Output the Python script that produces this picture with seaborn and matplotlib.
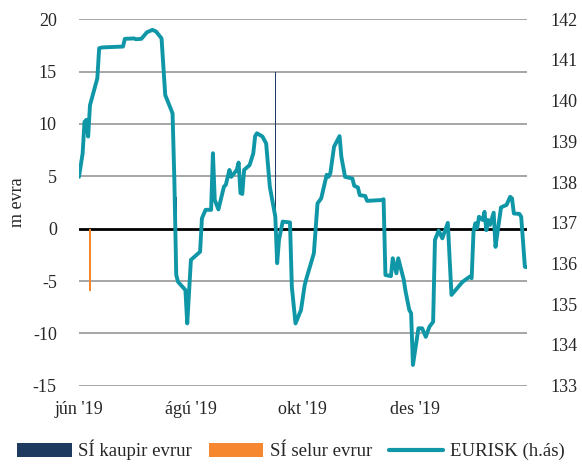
import numpy as np
import pandas as pd
import seaborn as sns
import matplotlib.pyplot as plt
from matplotlib.patches import Patch
from matplotlib.lines import Line2D

# EURISK exchange rate (right axis)
eurisk_dates = [
    "2019-06-01", "2019-06-03", "2019-06-04", "2019-06-05", "2019-06-06", "2019-06-07",
    "2019-06-11", "2019-06-12", "2019-06-14", "2019-06-25", "2019-06-26", "2019-07-01",
    "2019-07-02", "2019-07-05", "2019-07-08", "2019-07-11", "2019-07-13", "2019-07-16",
    "2019-07-18", "2019-07-22", "2019-07-23", "2019-07-24", "2019-07-25", "2019-07-29",
    "2019-07-30", "2019-08-01", "2019-08-06", "2019-08-07", "2019-08-09", "2019-08-12",
    "2019-08-13", "2019-08-14", "2019-08-16", "2019-08-19", "2019-08-20", "2019-08-22",
    "2019-08-23", "2019-08-26", "2019-08-27", "2019-08-28", "2019-08-29", "2019-08-30",
    "2019-09-02", "2019-09-04", "2019-09-05", "2019-09-06", "2019-09-09", "2019-09-11",
    "2019-09-13", "2019-09-16", "2019-09-17", "2019-09-18", "2019-09-20", "2019-09-24",
    "2019-09-25", "2019-09-27", "2019-09-30", "2019-10-02", "2019-10-03", "2019-10-07",
    "2019-10-09", "2019-10-11", "2019-10-14", "2019-10-15", "2019-10-16", "2019-10-18",
    "2019-10-21", "2019-10-22", "2019-10-24", "2019-10-28", "2019-10-29", "2019-10-31",
    "2019-11-01", "2019-11-04", "2019-11-05", "2019-11-13", "2019-11-14", "2019-11-15",
    "2019-11-18", "2019-11-19", "2019-11-21", "2019-11-22", "2019-11-25", "2019-11-26",
    "2019-11-28", "2019-11-29", "2019-11-30", "2019-12-03", "2019-12-05", "2019-12-07",
    "2019-12-09", "2019-12-11", "2019-12-12", "2019-12-14", "2019-12-16", "2019-12-19",
    "2019-12-21", "2019-12-27", "2019-12-31", "2020-01-01", "2020-01-02", "2020-01-03",
    "2020-01-04", "2020-01-05", "2020-01-07", "2020-01-08", "2020-01-09", "2020-01-10",
    "2020-01-11", "2020-01-13", "2020-01-14", "2020-01-15", "2020-01-17", "2020-01-20",
    "2020-01-22", "2020-01-23", "2020-01-24", "2020-01-27", "2020-01-28", "2020-01-30",
    "2020-01-31",
]
eurisk_values = [
    138.13, 138.71, 139.48, 139.53, 139.12, 139.89,
    140.55, 141.29, 141.31, 141.33, 141.52, 141.53,
    141.51, 141.52, 141.68, 141.74, 141.70, 141.53,
    140.14, 139.69, 138.01, 135.72, 135.55, 135.35,
    134.53, 136.09, 136.29, 137.11, 137.32, 137.32,
    138.71, 137.56, 137.33, 137.89, 137.93, 138.30,
    138.13, 138.30, 138.48, 137.73, 137.71, 138.30,
    138.42, 138.71, 139.13, 139.20, 139.12, 138.95,
    137.89, 137.15, 136.01, 136.58, 137.03, 137.01,
    135.43, 134.53, 134.86, 135.47, 135.64, 136.25,
    137.48, 137.60, 138.18, 138.13, 138.22, 138.87,
    139.13, 138.62, 138.13, 138.09, 137.91, 137.87,
    137.68, 137.66, 137.54, 137.56, 137.58, 135.72,
    135.69, 136.13, 135.76, 136.13, 135.60, 135.31,
    134.86, 134.78, 133.51, 134.41, 134.41, 134.20,
    134.45, 134.57, 136.58, 136.81, 136.62, 137.00,
    135.23, 135.55, 135.68, 135.64, 136.78, 136.99,
    136.87, 137.15, 137.07, 137.27, 136.82, 137.07,
    136.95, 137.25, 136.41, 136.74, 137.38, 137.44,
    137.64, 137.60, 137.23, 137.22, 137.15, 135.92,
    135.91,
]

# central bank interventions, m evra (left axis)
buy_dates = ["2019-07-24", "2019-09-16"]
buy_values = [3, 15]
sell_dates = ["2019-06-07"]
sell_values = [-6]

tick_dates = ["2019-06-01", "2019-08-01", "2019-10-01", "2019-12-01"]
tick_labels = ["jún '19", "ágú '19", "okt '19", "des '19"]

NAVY = "#1f3a5f"
ORANGE = "#f7872f"
TEAL = "#0f97a8"
GRID = "#a6a6a6"

sns.set_style("white")
plt.rcParams["font.family"] = ["Liberation Serif", "DejaVu Serif"]
plt.rcParams["font.size"] = 13
plt.rcParams["axes.unicode_minus"] = False

df = pd.DataFrame({"date": pd.to_datetime(eurisk_dates), "eurisk": eurisk_values})

fig = plt.figure(figsize=(5.82, 4.75), dpi=100)
ax = fig.add_axes([0.1357, 0.188, 0.7693, 0.7714])
ax2 = ax.twinx()

# left axis: bars + grid
ax.set_ylim(-15, 20)
ax.set_yticks(np.arange(-15, 21, 5))
for v in np.arange(-15, 21, 5):
    if v != 0:
        ax.axhline(v, color=GRID, lw=1.4, zorder=0)
ax.axhline(0, color="black", lw=2, zorder=1)
ax.bar(pd.to_datetime(buy_dates), buy_values, width=0.75, color=NAVY,
       edgecolor="none", linewidth=0, zorder=2)
ax.bar(pd.to_datetime(sell_dates), sell_values, width=0.75, color=ORANGE,
       edgecolor="none", linewidth=0, zorder=2)
ax.set_ylabel("m evra", fontsize=13, labelpad=5)

# right axis: EURISK
sns.lineplot(data=df, x="date", y="eurisk", ax=ax2, color=TEAL, linewidth=2.8, legend=False)
ax2.set_ylim(133, 142)
ax2.set_yticks(np.arange(133, 143, 1))
ax2.set_ylabel("")
ax2.set_xlabel("")

ax.set_xlim(pd.Timestamp("2019-06-01"), pd.Timestamp("2020-01-31"))
ax.set_xticks(pd.to_datetime(tick_dates))
ax.set_xticklabels(tick_labels)
ax.set_xlabel("")

for a in (ax, ax2):
    for s in a.spines.values():
        s.set_visible(False)
    a.tick_params(length=0, labelsize=13)
ax.tick_params(axis="y", pad=16)
ax.tick_params(axis="x", pad=11)
ax2.tick_params(axis="y", pad=17)

handles = [
    Patch(facecolor=NAVY, edgecolor="none", label="SÍ kaupir evrur"),
    Patch(facecolor=ORANGE, edgecolor="none", label="SÍ selur evrur"),
    Line2D([0], [0], color=TEAL, lw=3, label="EURISK (h.ás)"),
]
fig.legend(handles=handles, loc="lower center", bbox_to_anchor=(0.5, -0.005), ncol=3,
           frameon=False, fontsize=13.5, handlelength=2.9, handleheight=0.75,
           columnspacing=0.9, handletextpad=0.35)

fig.savefig("out.png", dpi=100)
